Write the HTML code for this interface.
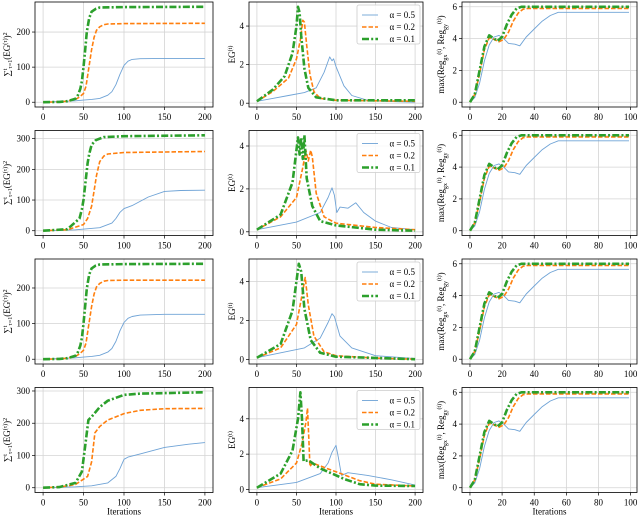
<!DOCTYPE html>
<html><head><meta charset="utf-8"><style>
html,body{margin:0;padding:0;background:#fff}
svg{display:block;font-family:"Liberation Serif",serif}
</style></head><body>
<svg id="fig" width="640" height="515" viewBox="0 0 640 515" xmlns="http://www.w3.org/2000/svg"></svg>
<script>
// ---------- data ----------
const seriesLabels = ["α = 0.5", "α = 0.2", "α = 0.1"];
// cumulative EG^2 panels (col 1)
const c1r1x = [[0,10,20,30,40,50,60,70,80,85,90,95,100,105,110,120,150,200],[0,20,30,40,45,50,53,56,60,63,66,70,75,80,100,200],[0,20,30,40,43,46,48,50,52,54,57,60,65,70,100,200]];
const c1r1y = [[0,1,2,3,4,6,8,11,20,30,50,80,105,117,122,124,125,125],[0,1,3,8,15,25,45,90,150,185,205,215,221,223,224,225],[0,1,3,10,20,38,60,100,150,200,240,258,266,270,271,272]];
const c1r2x = [[0,40,70,85,90,95,100,110,130,150,170,200],[0,30,50,55,60,63,66,70,75,80,100,200],[0,30,45,48,50,52,55,57,60,65,75,100,200]];
const c1r2y = [[0,3,10,25,40,60,72,82,110,128,131,132],[0,3,20,40,80,130,180,225,243,250,255,258],[0,5,40,70,100,150,220,250,280,295,305,308,311]];
const c1r3x = [[0,10,20,30,40,50,60,70,80,85,90,95,100,105,110,120,150,200],[0,20,30,40,45,50,53,56,60,63,66,70,75,80,100,200],[0,20,30,40,43,46,48,50,52,54,57,60,65,70,100,200]];
const c1r3y = [[0,1,2,3,4,6,8,11,20,30,50,80,103,115,120,124,126,126],[0,1,3,8,15,25,45,90,148,183,203,213,219,221,222,222],[0,1,3,10,20,38,60,100,150,198,238,255,263,266,267,268]];
const c1r4x = [[0,40,60,80,90,95,100,105,120,150,180,200],[0,20,40,55,60,64,70,80,100,120,150,200],[0,20,40,48,52,56,60,70,80,100,120,200]];
const c1r4y = [[0,3,6,15,35,60,88,95,105,125,135,140],[0,2,10,35,80,170,190,210,230,240,245,246],[0,2,15,50,130,210,220,250,270,288,292,296]];
// EG panels (col 2)
const c2r1x = [[0,20,40,60,75,85,92,95,97,100,110,120,140,160,200],[0,20,40,50,55,58,60,63,67,72,80,100,200],[0,20,35,45,50,52,54,56,60,65,75,100,200]];
const c2r1y = [[0.1,0.25,0.4,0.55,0.8,1.6,2.4,2.2,2.3,1.9,0.9,0.4,0.15,0.1,0.05],[0.1,0.6,1.3,2.3,3.3,4.3,4.2,3,1.5,0.6,0.25,0.15,0.1],[0.1,0.7,1.4,2.6,4,5.0,4.7,3.5,1.8,0.8,0.3,0.15,0.15]];
const c2r2x = [[0,50,80,90,95,98,101,105,115,125,135,150,170,200],[0,30,50,58,62,65,68,70,75,85,100,150,200],[0,30,45,52,54,56,58,60,63,70,80,100,150,200]];
const c2r2y = [[0.1,0.45,0.9,1.6,2.05,1.7,0.9,1.15,1.1,1.35,0.9,0.5,0.2,0.1],[0.1,0.7,1.6,3.0,3.8,3.3,3.8,3.5,1.8,0.7,0.4,0.2,0.1],[0.1,0.8,2.3,4.4,3.6,4.4,3.4,4.5,2.5,1.2,0.5,0.3,0.1,0.05]];
const c2r3x = [[0,60,80,90,95,98,105,120,150,200],[0,30,50,57,61,65,72,85,100,150,200],[0,30,45,53,56,60,68,80,100,200]];
const c2r3y = [[0.1,0.6,1.1,1.9,2.35,2.2,1.2,0.6,0.2,0.05],[0.1,0.6,1.8,3.3,4.2,2.8,1.2,0.4,0.2,0.08,0.02],[0.1,0.8,2.5,4.9,4.5,2.6,1.0,0.35,0.15,0.02]];
const c2r4x = [[0,50,80,90,95,100,103,107,115,140,170,200],[0,30,50,57,62,64,66,67,70,100,130,150,200],[0,30,45,52,55,57,59,65,80,110,130,150,200]];
const c2r4y = [[0.1,0.4,0.9,1.5,2.1,2.5,1.8,0.8,0.95,0.8,0.55,0.25],[0.1,0.6,1.5,2.6,3.8,4.6,2.5,1.3,1.5,1.0,0.5,0.3,0.2],[0.1,0.9,2.2,4,5.5,4,1.6,1.65,1.2,0.6,0.3,0.22,0.2]];
// regret panels (col 3)
const c3x = [[0,3,6,9,12,15,18,21,24,28,31,35,40,45,50,55,99],[0,3,6,9,12,15,18,21,24,27,30,33,36,99],[0,3,6,9,12,15,17,20,23,26,29,32,99]];
const c3y = [[0,0.3,1.2,2.6,3.6,4.1,4.2,4.0,3.7,3.65,3.55,4.1,4.6,5.1,5.45,5.65,5.65],[0,0.5,1.8,3.3,4.05,3.95,3.8,3.95,4.4,5.1,5.6,5.85,5.9,5.9],[0,0.5,2,3.5,4.2,4.0,3.85,4.1,4.9,5.5,5.9,6.0,6.0]];
const xTicks200 = [0,50,100,150,200];
const xTicks100 = [0,20,40,60,80,100];
const yTicksC1a = [0,100,200];
const yTicksC1b = [0,100,200,300];
const yTicksC2 = [0,2,4];
const yTicksC3 = [0,2,4,6];

// ---------- layout ----------
const NS = "http://www.w3.org/2000/svg";
const svg = document.getElementById("fig");
const colL = [35,249,462], colW = [178,174,175];
const rowT = [2,130.5,259,387.5], H = 105;
const colors = ["#6fa3d6","#ff7f0e","#2ca02c"];
const widths = [0.9,1.6,2.6];
const dashes = ["", "4.5,2", "7,2.2,2,2.2"];

function el(tag, attrs, parent){const e=document.createElementNS(NS,tag);for(const k in attrs)e.setAttribute(k,attrs[k]);(parent||svg).appendChild(e);return e;}

function panel(r,c,xs,ys,xTicks,yTicks,xmax,ylabel,legend,xlabel){
  const L=colL[c],T=rowT[r],W=colW[c];
  const g=el("g",{});
  
  
  let ymin=Infinity,ymax=-Infinity;
  ys.forEach(a=>a.forEach(v=>{ymin=Math.min(ymin,v);ymax=Math.max(ymax,v);}));
  const sp=ymax-ymin; const y0=ymin-0.05*sp, y1=ymax+0.05*sp;
  const x0=-0.05*xmax, x1=1.05*xmax;
  const X=v=>L+(v-x0)/(x1-x0)*W;
  const Y=v=>T+H-(v-y0)/(y1-y0)*H;
  xTicks.forEach(t=>{const l=el("line",{x1:X(t),x2:X(t),y1:T,y2:T+H,stroke:"#d4d4d4","stroke-width":0.8},g);
    
    el("line",{x1:X(t),x2:X(t),y1:T+H,y2:T+H+3,stroke:"#000","stroke-width":0.7},g);
    const tx=el("text",{x:X(t),y:T+H+13,"font-size":9,"text-anchor":"middle"},g);tx.textContent=t;
    });
  yTicks.forEach(t=>{const l=el("line",{x1:L,x2:L+W,y1:Y(t),y2:Y(t),stroke:"#d4d4d4","stroke-width":0.8},g);
    
    el("line",{x1:L-3,x2:L,y1:Y(t),y2:Y(t),stroke:"#000","stroke-width":0.7},g);
    const tx=el("text",{x:L-5,y:Y(t)+3,"font-size":9,"text-anchor":"end"},g);tx.textContent=t;
    });
  for(let s=0;s<3;s++){
    const d=xs[s].map((v,i)=>(i?"L":"M")+X(v).toFixed(1)+","+Y(ys[s][i]).toFixed(1)).join("");
    const p=el("path",{d:d,fill:"none",stroke:colors[s],"stroke-width":widths[s],"stroke-dasharray":dashes[s]||"none","stroke-linejoin":"round"},g);
    
    
  }
  const fr=el("rect",{x:L,y:T,width:W,height:H,fill:"none",stroke:"#000","stroke-width":0.8},g);
  
  const lx=L-(c===0?25:(c===1?14:18)), ly=T+H/2;
  const yl=el("text",{x:lx,y:ly,"font-size":9,"text-anchor":"middle",transform:"rotate(-90 "+lx+" "+ly+")"},g);
  yl.innerHTML=ylabel;
  
  if(xlabel){const xl=el("text",{x:L+W/2,y:T+H+22,"font-size":9,"text-anchor":"middle"},g);xl.textContent="Iterations";
    }
  if(legend){
    const lg=el("g",{},g);
    
    el("rect",{x:L+W-66,y:T+3,width:63,height:39,fill:"#fff","fill-opacity":0.85,stroke:"#ccc","stroke-width":0.8,rx:2},lg);
    for(let s=0;s<3;s++){
      const yy=T+13+s*12;
      el("line",{x1:L+W-61,x2:L+W-45,y1:yy,y2:yy,stroke:colors[s],"stroke-width":widths[s],"stroke-dasharray":dashes[s]||"none"},lg);
      const t=el("text",{x:L+W-8,y:yy+3,"font-size":9,"text-anchor":"end"},lg);t.textContent=seriesLabels[s];
      
    }
  }
}
const lab1='∑<tspan font-size="6" dy="-3">t</tspan><tspan font-size="6" dy="5">τ=1</tspan><tspan dy="-2">(EG</tspan><tspan font-size="6" dy="-3">(τ)</tspan><tspan dy="3">)</tspan><tspan font-size="6" dy="-3">2</tspan>';
const lab2='EG<tspan font-size="6" dy="-3">(t)</tspan>';
const lab3='max(Reg<tspan font-size="6" dy="3">gx</tspan><tspan font-size="6" dy="-6">(t)</tspan><tspan dy="3">, Reg</tspan><tspan font-size="6" dy="3">gy</tspan><tspan font-size="6" dy="-6">(t)</tspan><tspan dy="3">)</tspan>';
const c1x=[c1r1x,c1r2x,c1r3x,c1r4x], c1y=[c1r1y,c1r2y,c1r3y,c1r4y];
const c2x=[c2r1x,c2r2x,c2r3x,c2r4x], c2y=[c2r1y,c2r2y,c2r3y,c2r4y];
for(let r=0;r<4;r++){
  panel(r,0,c1x[r],c1y[r],xTicks200,(r%2?yTicksC1b:yTicksC1a),200,lab1,false,r===3);
  panel(r,1,c2x[r],c2y[r],xTicks200,yTicksC2,200,lab2,true,r===3);
  panel(r,2,c3x,c3y,xTicks100,yTicksC3,99,lab3,false,r===3);
}
</script>
</body></html>
